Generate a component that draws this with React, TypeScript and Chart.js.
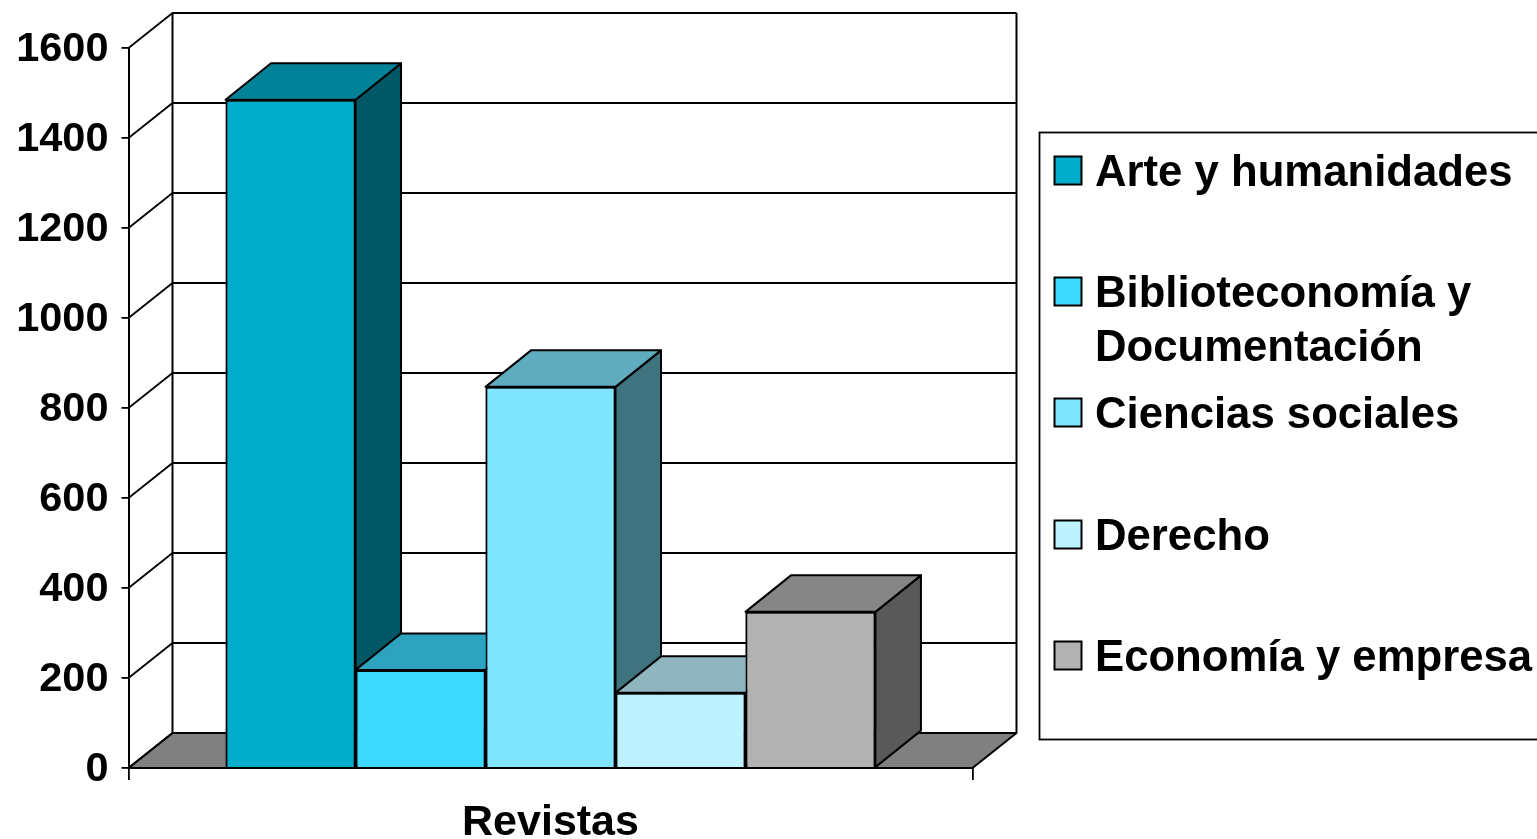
import React, { useEffect, useRef } from "react";
import { Chart, registerables } from "chart.js";

Chart.register(...registerables);

const categories = ["Revistas"];
const seriesNames = ["Arte y humanidades", "Biblioteconomía y Documentación", "Ciencias sociales", "Derecho", "Economía y empresa"];
const legendLines = [["Arte y humanidades"], ["Biblioteconomía y", "Documentación"], ["Ciencias sociales"], ["Derecho"], ["Economía y empresa"]];
const seriesValues = [1485, 218, 847, 167, 347];
const frontColors = ["#00AECC", "#3DD9FF", "#80E5FF", "#BFF2FF", "#B2B2B2"];
const topColors = ["#008299", "#2EA3BF", "#60ACBF", "#8FB5BF", "#868686"];
const sideColors = ["#005766", "#1F6D80", "#407380", "#607980", "#595959"];
const legendRowY = [171, 292, 413, 535, 656];

const FONT = '"Liberation Sans", Arial, sans-serif';
const WALL_DX = 44;
const WALL_DY = 35;
const BAR_DX = 45.5;
const BAR_DY = 36.5;

function poly(ctx: CanvasRenderingContext2D, pts: number[][], fill: string | null, lw = 2) {
  ctx.beginPath();
  pts.forEach((p, i) => (i ? ctx.lineTo(p[0], p[1]) : ctx.moveTo(p[0], p[1])));
  ctx.closePath();
  if (fill) {
    ctx.fillStyle = fill;
    ctx.fill();
  }
  ctx.lineWidth = lw;
  ctx.strokeStyle = "#000";
  ctx.lineJoin = "round";
  ctx.stroke();
}

const wallsPlugin = {
  id: "walls3d",
  beforeDatasetsDraw(chart: any) {
    const { ctx, chartArea: a, scales } = chart;
    const y = scales.y;
    ctx.save();
    poly(ctx, [[a.left, a.bottom], [a.right, a.bottom], [a.right + WALL_DX, a.bottom - WALL_DY], [a.left + WALL_DX, a.bottom - WALL_DY]], "#808080");
    ctx.strokeStyle = "#000";
    ctx.lineWidth = 1.8;
    y.ticks.forEach((t: any) => {
      const py = y.getPixelForValue(t.value);
      ctx.beginPath();
      ctx.moveTo(a.left, py);
      ctx.lineTo(a.left + WALL_DX, py - WALL_DY);
      if (t.value > 0) ctx.lineTo(a.right + WALL_DX, py - WALL_DY);
      ctx.stroke();
    });
    ctx.lineWidth = 2;
    ctx.beginPath();
    ctx.moveTo(a.left + WALL_DX, a.top - WALL_DY);
    ctx.lineTo(a.left + WALL_DX, a.bottom - WALL_DY);
    ctx.moveTo(a.right + WALL_DX, a.top - WALL_DY);
    ctx.lineTo(a.right + WALL_DX, a.bottom - WALL_DY);
    ctx.stroke();
    ctx.restore();
  },
  // The library paints the last series first, but here each block must overlap
  // the one to its left, so the bars are painted again from left to right.
  afterDatasetsDraw(chart: any) {
    const { ctx } = chart;
    seriesNames.forEach((_, i) => {
      const el = chart.getDatasetMeta(i).data[0];
      const l = el.x - el.width / 2;
      const r = el.x + el.width / 2;
      const t = el.y;
      const b = el.base;
      ctx.save();
      poly(ctx, [[r, t], [r + BAR_DX, t - BAR_DY], [r + BAR_DX, b - BAR_DY], [r, b]], sideColors[i]);
      poly(ctx, [[l, t], [r, t], [r + BAR_DX, t - BAR_DY], [l + BAR_DX, t - BAR_DY]], topColors[i]);
      el.draw(ctx);
      ctx.restore();
    });
  },
};

const legendPlugin = {
  id: "boxLegend",
  afterDraw(chart: any) {
    const { ctx } = chart;
    ctx.save();
    ctx.lineWidth = 1.8;
    ctx.strokeStyle = "#000";
    ctx.strokeRect(1039.5, 132.5, 520, 607);
    ctx.font = `bold 43.7px ${FONT}`;
    ctx.textBaseline = "middle";
    ctx.textAlign = "left";
    chart.data.datasets.forEach((ds: any, i: number) => {
      const cy = legendRowY[i];
      ctx.fillStyle = ds.backgroundColor;
      ctx.fillRect(1054.5, cy - 14.5, 27, 28);
      ctx.lineWidth = 2;
      ctx.strokeRect(1054.5, cy - 14.5, 27, 28);
      ctx.fillStyle = "#000";
      legendLines[i].forEach((line, j) => ctx.fillText(line, 1095, cy + 3 + j * 54));
    });
    ctx.restore();
  },
};

export default function App() {
  const ref = useRef<HTMLCanvasElement>(null);
  useEffect(() => {
    document.body.style.margin = "0";
    const chart = new Chart(ref.current!, {
      type: "bar",
      data: {
        labels: categories,
        datasets: seriesNames.map((name, i) => ({
          label: name,
          data: [seriesValues[i]],
          backgroundColor: frontColors[i],
          borderColor: "#000",
          borderWidth: 2,
          categoryPercentage: 0.77,
          barPercentage: 1,
        })),
      },
      options: {
        responsive: false,
        animation: false,
        layout: { padding: { left: 0, top: 48, right: 564.5, bottom: 0 } },
        plugins: { legend: { display: false }, tooltip: { enabled: false }, title: { display: false } },
        scales: {
          x: {
            afterFit: (s: any) => { s.height = 71; },
            grid: { drawOnChartArea: false, drawTicks: true, tickLength: 12, color: "#000", lineWidth: 1.8 },
            border: { display: true, color: "#000", width: 2 },
            ticks: { color: "#000", padding: 17, font: { family: FONT, weight: "bold", size: 43 } },
          },
          y: {
            min: 0,
            max: 1600,
            afterFit: (s: any) => { s.width = 128.5; },
            grid: { drawOnChartArea: false, drawTicks: true, tickLength: 7, color: "#000", lineWidth: 1.8 },
            border: { display: true, color: "#000", width: 2 },
            ticks: {
              stepSize: 200,
              color: "#000",
              padding: 13,
              labelOffset: 2,
              callback: (v: any) => String(v),
              font: { family: FONT, weight: "bold", size: 41.5 },
            },
          },
        },
      } as any,
      plugins: [wallsPlugin, legendPlugin],
    });
    return () => chart.destroy();
  }, []);
  return <canvas ref={ref} width={1537} height={839} style={{ display: "block" }} />;
}
